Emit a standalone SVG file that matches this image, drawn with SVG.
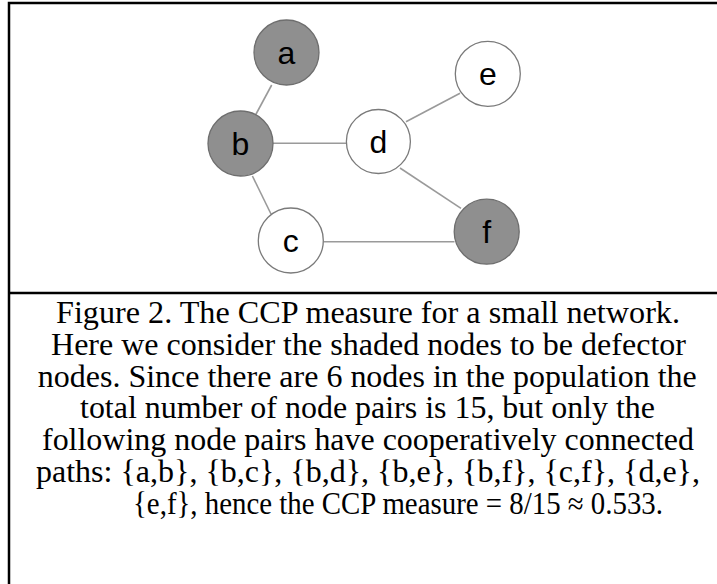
<svg xmlns="http://www.w3.org/2000/svg" width="717" height="584" viewBox="0 0 717 584">
<style>
.frame{stroke:#000;stroke-width:2.5;fill:none}
.edge{stroke:#9a9a9a;stroke-width:1.6;fill:none}
.def{fill:#8f8f8f;stroke:#6e6e6e;stroke-width:1.3}
.coop{fill:#fff;stroke:#7a7a7a;stroke-width:1.3}
.lbl{font-family:"Liberation Sans",Arial,sans-serif;font-size:32px;fill:#000;text-anchor:middle}
.cap{font-family:"Liberation Serif","Times New Roman",serif;font-size:31px;fill:#000;text-anchor:middle}
</style>
<rect width="717" height="584" fill="#fff"/>
<g id="frame">
<path class="frame" d="M9,584 V3 H717"/>
<path class="frame" d="M9,293 H717"/>
</g>
<g id="connectors">
<line class="edge" x1="271.7" y1="85" x2="255" y2="116"/>
<line class="edge" x1="252.4" y1="176" x2="271" y2="214"/>
<line class="edge" x1="272.7" y1="143.3" x2="346.7" y2="143.3"/>
<line class="edge" x1="406" y1="121.7" x2="460" y2="93.3"/>
<line class="edge" x1="400" y1="168" x2="461" y2="208.3"/>
<line class="edge" x1="323.5" y1="241.7" x2="454.5" y2="241.7"/>
</g>
<g id="node-a"><circle class="def" cx="286.5" cy="52.5" r="32.5"/><text class="lbl" x="286.5" y="64">a</text></g>
<g id="node-b"><circle class="def" cx="240.5" cy="143.5" r="32.5"/><text class="lbl" x="240.5" y="155">b</text></g>
<g id="node-c"><circle class="coop" cx="290.8" cy="240.5" r="32.5"/><text class="lbl" x="290.8" y="252">c</text></g>
<g id="node-d"><circle class="coop" cx="378.4" cy="141.5" r="32"/><text class="lbl" x="378.4" y="153">d</text></g>
<g id="node-e"><circle class="coop" cx="487.8" cy="73.8" r="32.5"/><text class="lbl" x="487.8" y="85">e</text></g>
<g id="node-f"><circle class="def" cx="486.7" cy="231.7" r="32.5"/><text class="lbl" x="486.7" y="243">f</text></g>
<g id="caption">
<text class="cap" x="368" y="323.3" textLength="624" lengthAdjust="spacingAndGlyphs">Figure 2. The CCP measure for a small network.</text>
<text class="cap" x="368.5" y="355" textLength="635" lengthAdjust="spacingAndGlyphs">Here we consider the shaded nodes to be defector</text>
<text class="cap" x="367.3" y="386.7" textLength="659" lengthAdjust="spacingAndGlyphs">nodes. Since there are 6 nodes in the population the</text>
<text class="cap" x="367.5" y="418.4" textLength="575" lengthAdjust="spacingAndGlyphs">total number of node pairs is 15, but only the</text>
<text class="cap" x="368" y="450.1" textLength="652" lengthAdjust="spacingAndGlyphs">following node pairs have cooperatively connected</text>
<text class="cap" x="368" y="481.8" textLength="664" lengthAdjust="spacingAndGlyphs">paths: {a,b}, {b,c}, {b,d}, {b,e}, {b,f}, {c,f}, {d,e},</text>
<text class="cap" x="398" y="513.5" textLength="530" lengthAdjust="spacingAndGlyphs">{e,f}, hence the CCP measure = 8/15 ≈ 0.533.</text>
</g>
</svg>
